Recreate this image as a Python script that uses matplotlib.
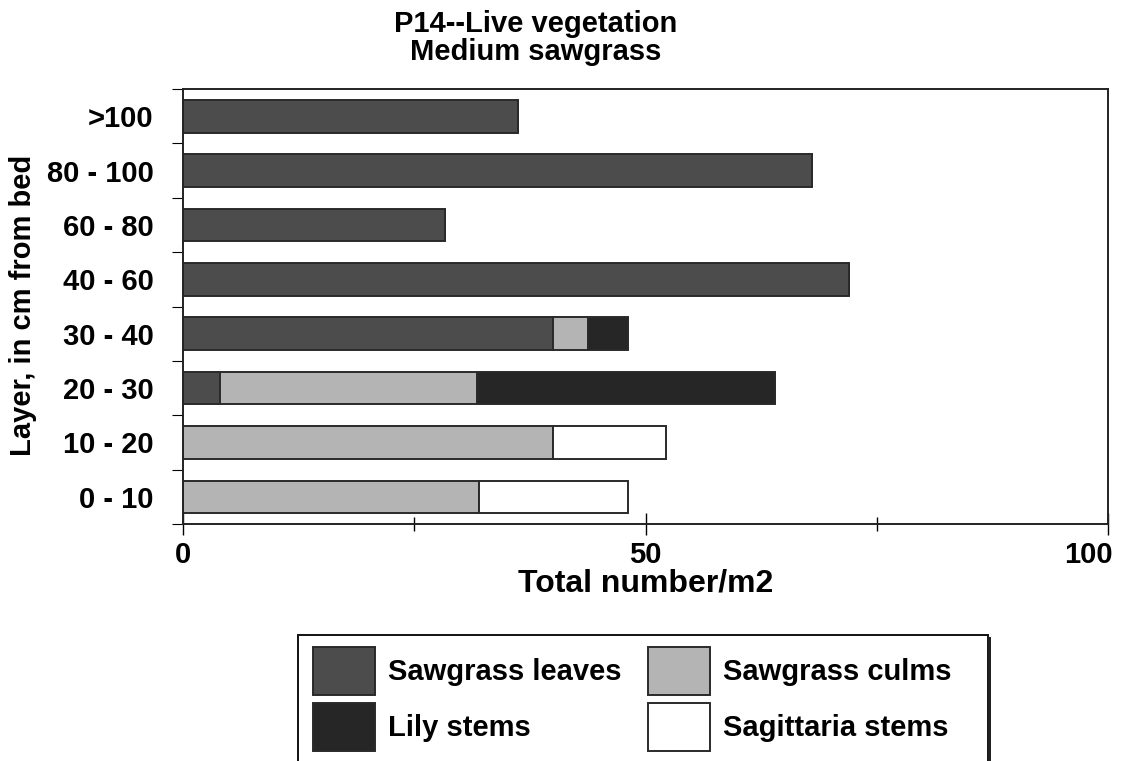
import matplotlib
matplotlib.use("Agg")
import matplotlib.pyplot as plt
from matplotlib.ticker import FixedLocator
from matplotlib.patches import Rectangle
from matplotlib.transforms import ScaledTranslation
import numpy as np

plt.rcParams['font.family'] = ['Liberation Sans', 'DejaVu Sans']
plt.rcParams['font.weight'] = 'bold'

# Layers from the bed upward
layers = ["0 - 10", "10 - 20", "20 - 30", "30 - 40", "40 - 60", "60 - 80", "80 - 100", ">100"]

# Stems/leaves per square metre in each layer
sawgrass_leaves = [0.0, 0.0, 4.0, 40.0, 72.0, 28.3, 68.0, 36.2]
sawgrass_culms = [32.0, 40.0, 27.8, 3.8, 0.0, 0.0, 0.0, 0.0]
lily_stems = [0.0, 0.0, 32.2, 4.3, 0.0, 0.0, 0.0, 0.0]
sagittaria_stems = [16.1, 12.2, 0.0, 0.0, 0.0, 0.0, 0.0, 0.0]

series = [
    ("Sawgrass leaves", sawgrass_leaves, "#4c4c4c"),
    ("Sawgrass culms", sawgrass_culms, "#b4b4b4"),
    ("Lily stems", lily_stems, "#262626"),
    ("Sagittaria stems", sagittaria_stems, "#ffffff"),
]

FS = 21
W, H = 1133, 761
fig = plt.figure(figsize=(W / 100, H / 100), dpi=100)
ax = fig.add_axes([183 / W, 1 - 524 / H, (1108 - 183) / W, (524 - 89) / H])

y = np.arange(len(layers))
left = np.zeros(len(layers))
handles = {}
for name, vals, color in series:
    vals = np.array(vals)
    bars = ax.barh(y, vals, left=left, height=0.6, color=color,
                   edgecolor="#2a2a2a", linewidth=1.4, label=name)
    handles[name] = bars
    left = left + vals

ax.set_xlim(0, 100)
ax.set_ylim(-0.5, len(layers) - 0.5)

ax.set_xticks([0, 50, 100])
ax.set_xticks([25, 75], minor=True)
ax.set_yticks(y)
ax.set_yticklabels(layers)
ax.yaxis.set_minor_locator(FixedLocator(np.arange(-0.5, len(layers), 1.0)))

ax.tick_params(axis="x", which="major", direction="inout", length=16, width=1,
               labelsize=FS, pad=4)
ax.tick_params(axis="x", which="minor", direction="inout", length=10, width=1)
ax.tick_params(axis="y", which="major", length=0, labelsize=FS, pad=21)
ax.tick_params(axis="y", which="minor", direction="out", length=8, width=0.8)

# keep the last x tick label inside the figure edge
last = ax.get_xticklabels()[-1]
last.set_transform(last.get_transform() + ScaledTranslation(-20 / 100, 0, fig.dpi_scale_trans))

for s in ax.spines.values():
    s.set_linewidth(1.4)
    s.set_color("#222222")

ax.set_xlabel("Total number/m2", fontsize=23, fontweight="bold", labelpad=0)
fig.text(23 / W, 1 - 305 / H, "Layer, in cm from bed", rotation=90,
         ha="center", va="center", fontsize=FS, fontweight="bold")

fig.text(536 / W, 1 - 24 / H, "P14--Live vegetation", ha="center", va="center",
         fontsize=FS, fontweight="bold")
fig.text(536 / W, 1 - 52 / H, "Medium sawgrass", ha="center", va="center",
         fontsize=FS, fontweight="bold")

# Legend entries, with a plain box drawn around them
order = ["Sawgrass leaves", "Lily stems", "Sawgrass culms", "Sagittaria stems"]
leg = fig.legend([handles[n] for n in order], order, ncol=2,
                 loc="upper left", bbox_to_anchor=(313 / W, 1 - 647 / H),
                 fontsize=FS, frameon=False,
                 handlelength=2.12, handleheight=2.155, handletextpad=0.45,
                 labelspacing=0.27, columnspacing=0.92, borderpad=0,
                 borderaxespad=0)

fig.patches.append(Rectangle((298 / W, -0.02), (988 - 298) / W, 0.02 + (761 - 635) / H,
                             transform=fig.transFigure, fill=False,
                             edgecolor="#111111", linewidth=1.4))
fig.patches.append(Rectangle((988 / W, -0.02), 2.5 / W, 0.02 + (761 - 637) / H,
                             transform=fig.transFigure, facecolor="#222222",
                             edgecolor="none"))

fig.savefig("out.png", dpi=100)
